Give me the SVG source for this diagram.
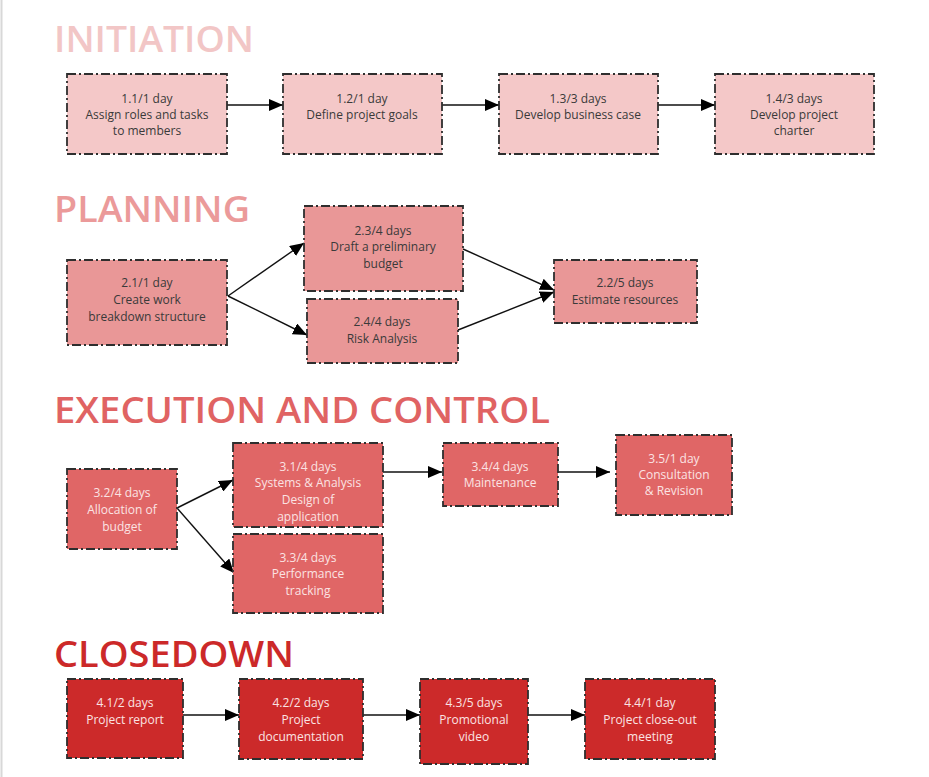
<svg xmlns="http://www.w3.org/2000/svg" width="929" height="777" viewBox="0 0 929 777">
<style>
.h{font-family:"Open Sans","Noto Sans",sans-serif;font-weight:600;font-size:36px}
.box{stroke:#2e2e2e;stroke-width:1.8;stroke-dasharray:9 3 2 3}
.t{font-family:"Open Sans","Noto Sans",sans-serif;font-size:12px;text-anchor:middle}
.p1{fill:#f4c8c8}.p2{fill:#e99797}.p3{fill:#e06666}.p4{fill:#cc2a2a}
.dk{fill:#3a3a3a}.lt{fill:#fbe3e3}
.c line{stroke:#111;stroke-width:1.4;marker-end:url(#ah)}
</style>
<defs>
<marker id="ah" markerUnits="userSpaceOnUse" markerWidth="15" markerHeight="12" refX="14" refY="6" orient="auto">
<path d="M0,0 L14,6 L0,12 Z" fill="#000"/>
</marker>
</defs>
<rect width="929" height="777" fill="#fff"/>
<line x1="1.5" y1="0" x2="1.5" y2="777" stroke="#d8d8d8" stroke-width="2"/>

<text class="h" x="54" y="52" fill="#f2c6c6" textLength="200" lengthAdjust="spacingAndGlyphs">INITIATION</text>
<text class="h" x="54" y="222" fill="#eb9a9a" textLength="196" lengthAdjust="spacingAndGlyphs">PLANNING</text>
<text class="h" x="54" y="423" fill="#e06363" textLength="496" lengthAdjust="spacingAndGlyphs">EXECUTION AND CONTROL</text>
<text class="h" x="54" y="667" fill="#cc2929" textLength="240" lengthAdjust="spacingAndGlyphs">CLOSEDOWN</text>

<g class="c" id="connectors">
<line x1="227" y1="105" x2="283" y2="105"/>
<line x1="442" y1="105" x2="499" y2="105"/>
<line x1="658" y1="105" x2="715" y2="105"/>
<line x1="228" y1="296" x2="304" y2="243"/>
<line x1="228" y1="296" x2="307" y2="335"/>
<line x1="463" y1="249" x2="554" y2="290"/>
<line x1="458" y1="330" x2="554" y2="292"/>
<line x1="177" y1="508" x2="233" y2="480"/>
<line x1="177" y1="508" x2="234" y2="573"/>
<line x1="379" y1="472" x2="442" y2="472"/>
<line x1="553" y1="472" x2="610" y2="472"/>
<line x1="183" y1="715" x2="239" y2="715"/>
<line x1="363" y1="715" x2="420" y2="715"/>
<line x1="528" y1="715" x2="585" y2="715"/>
</g>

<g id="n11"><rect class="box p1" x="67" y="74" width="160" height="80"/>
<text class="t dk" x="147" y="103">1.1/1 day</text><text class="t dk" x="147" y="119">Assign roles and tasks</text><text class="t dk" x="147" y="135">to members</text></g>
<g id="n12"><rect class="box p1" x="283" y="74" width="159" height="80"/>
<text class="t dk" x="362" y="103">1.2/1 day</text><text class="t dk" x="362" y="119">Define project goals</text></g>
<g id="n13"><rect class="box p1" x="499" y="74" width="159" height="80"/>
<text class="t dk" x="578" y="103">1.3/3 days</text><text class="t dk" x="578" y="119">Develop business case</text></g>
<g id="n14"><rect class="box p1" x="715" y="74" width="159" height="80"/>
<text class="t dk" x="794" y="103">1.4/3 days</text><text class="t dk" x="794" y="119">Develop project</text><text class="t dk" x="794" y="135">charter</text></g>

<g id="n21"><rect class="box p2" x="67" y="260" width="160" height="85"/>
<text class="t dk" x="147" y="287">2.1/1 day</text><text class="t dk" x="147" y="304">Create work</text><text class="t dk" x="147" y="321">breakdown structure</text></g>
<g id="n23"><rect class="box p2" x="304" y="206" width="159" height="85"/>
<text class="t dk" x="383" y="235">2.3/4 days</text><text class="t dk" x="383" y="251">Draft a preliminary</text><text class="t dk" x="383" y="268">budget</text></g>
<g id="n24"><rect class="box p2" x="307" y="299" width="151" height="64"/>
<text class="t dk" x="382" y="326">2.4/4 days</text><text class="t dk" x="382" y="343">Risk Analysis</text></g>
<g id="n22"><rect class="box p2" x="554" y="260" width="143" height="63"/>
<text class="t dk" x="625" y="287">2.2/5 days</text><text class="t dk" x="625" y="304">Estimate resources</text></g>

<g id="n32"><rect class="box p3" x="67" y="469" width="110" height="80"/>
<text class="t lt" x="122" y="497">3.2/4 days</text><text class="t lt" x="122" y="514">Allocation of</text><text class="t lt" x="122" y="531">budget</text></g>
<g id="n31"><rect class="box p3" x="233" y="443" width="150" height="84"/>
<text class="t lt" x="308" y="471">3.1/4  days</text><text class="t lt" x="308" y="487">Systems &amp; Analysis</text><text class="t lt" x="308" y="504">Design of</text><text class="t lt" x="308" y="521">application</text></g>
<g id="n33"><rect class="box p3" x="233" y="534" width="150" height="79"/>
<text class="t lt" x="308" y="562">3.3/4 days</text><text class="t lt" x="308" y="578">Performance</text><text class="t lt" x="308" y="595">tracking</text></g>
<g id="n34"><rect class="box p3" x="443" y="443" width="115" height="63"/>
<text class="t lt" x="500" y="471">3.4/4 days</text><text class="t lt" x="500" y="487">Maintenance</text></g>
<g id="n35"><rect class="box p3" x="616" y="435" width="116" height="80"/>
<text class="t lt" x="674" y="463">3.5/1 day</text><text class="t lt" x="674" y="479">Consultation</text><text class="t lt" x="674" y="495">&amp; Revision</text></g>

<g id="n41"><rect class="box p4" x="67" y="679" width="116" height="79"/>
<text class="t lt" x="125" y="707">4.1/2 days</text><text class="t lt" x="125" y="724">Project report</text></g>
<g id="n42"><rect class="box p4" x="239" y="679" width="124" height="80"/>
<text class="t lt" x="301" y="707">4.2/2 days</text><text class="t lt" x="301" y="724">Project</text><text class="t lt" x="301" y="741">documentation</text></g>
<g id="n43"><rect class="box p4" x="420" y="679" width="108" height="85"/>
<text class="t lt" x="474" y="707">4.3/5 days</text><text class="t lt" x="474" y="724">Promotional</text><text class="t lt" x="474" y="741">video</text></g>
<g id="n44"><rect class="box p4" x="585" y="679" width="130" height="80"/>
<text class="t lt" x="650" y="707">4.4/1 day</text><text class="t lt" x="650" y="724">Project close-out</text><text class="t lt" x="650" y="741">meeting</text></g>
</svg>
